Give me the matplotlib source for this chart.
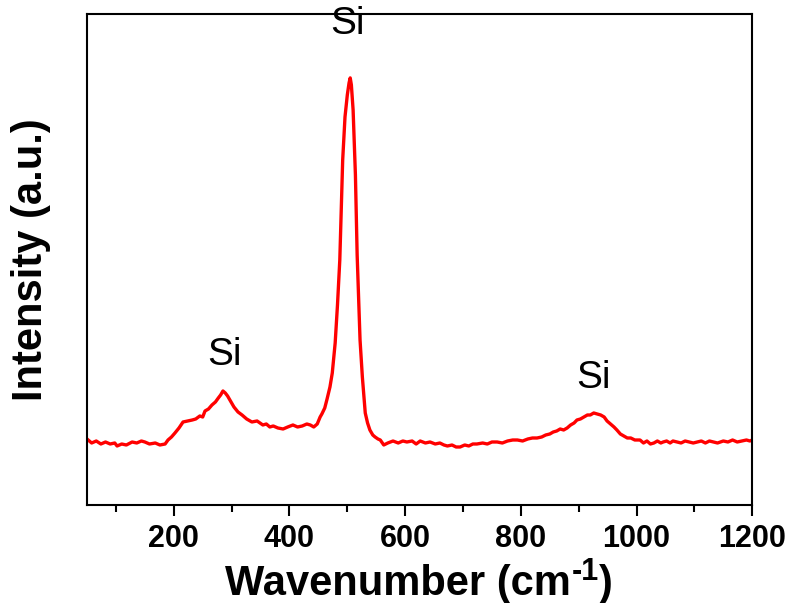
import matplotlib
matplotlib.use("Agg")
import matplotlib.pyplot as plt
from matplotlib.ticker import MultipleLocator, NullLocator

plt.rcParams['font.family'] = ['Liberation Sans', 'DejaVu Sans']

# Raman spectrum (wavenumber in cm^-1, intensity in a.u.)
wavenumber = [50, 58, 66, 74, 82, 90, 98, 102, 110, 118, 128, 136, 144, 150, 158, 168, 176, 185,
              190, 196, 202, 209, 216, 224, 232, 238, 245, 250, 254, 260, 266, 272, 277, 281, 285,
              289, 293, 297, 304, 311, 318, 326, 335, 344, 354, 360, 366, 372, 380, 389, 397, 406,
              414, 422, 430, 436, 442, 448, 453, 456, 461, 465, 470, 474, 479, 483, 487, 492, 496,
              500, 503, 505, 507, 510, 514, 517, 520, 522, 526, 531, 535, 539, 544, 548, 553, 557,
              563, 570, 579, 588, 596, 603, 612, 619, 626, 635, 643, 652, 660, 667, 673, 681, 688,
              695, 703, 710, 717, 724, 734, 742, 750, 759, 768, 777, 786, 794, 803, 812, 820, 828,
              836, 843, 850, 856, 862, 868, 874, 880, 886, 892, 897, 903, 909, 915, 920, 926, 932,
              938, 944, 949, 955, 961, 966, 972, 978, 984, 990, 997, 1006, 1012, 1018, 1024, 1030,
              1036, 1042, 1046, 1052, 1058, 1063, 1070, 1077, 1084, 1091, 1098, 1105, 1112, 1119,
              1126, 1133, 1140, 1150, 1158, 1166, 1174, 1182, 1190, 1196, 1200]
intensity = [66, 62, 64, 61, 63, 61, 62, 59, 61, 60, 63, 62, 64, 63, 61, 62, 60, 61,
             65, 68, 72, 77, 83, 84, 85, 86, 89, 88, 94, 96, 100, 103, 107, 110, 114,
             112, 109, 105, 98, 93, 90, 86, 83, 84, 80, 81, 78, 79, 77, 76, 78, 80,
             78, 79, 81, 80, 78, 81, 88, 91, 97, 106, 118, 132, 162, 200, 245, 345, 388,
             410, 422, 427, 420, 395, 330, 250, 200, 165, 128, 92, 82, 75, 70, 68, 66, 65,
             60, 62, 64, 62, 64, 63, 64, 61, 64, 62, 63, 61, 62, 60, 59, 60, 58,
             58, 60, 59, 61, 61, 62, 61, 63, 63, 62, 64, 65, 65, 64, 66, 67, 67,
             68, 70, 71, 73, 74, 76, 75, 77, 80, 82, 85, 86, 88, 90, 90, 92, 91,
             90, 88, 84, 81, 78, 75, 71, 69, 67, 67, 65, 65, 62, 64, 61, 62,
             64, 62, 63, 64, 62, 64, 63, 62, 64, 63, 62, 63, 64, 62,
             64, 63, 62, 64, 63, 65, 63, 64, 65, 64, 65]

x_ticks = [200, 400, 600, 800, 1000, 1200]
peak_labels = ["Si", "Si", "Si"]
peak_label_x = [287, 501, 925]
peak_label_y = [150, 481, 127]

W_PX, H_PX = 791, 603
fig = plt.figure(figsize=(W_PX / 100, H_PX / 100), dpi=100)
ax = fig.add_axes([0.110, 0.1625, 0.841, 0.8145])

ax.plot(wavenumber, intensity, color='#ff0000', linewidth=2.4)

ax.set_xlim(50, 1200)
ax.set_ylim(0, 491)
ax.set_xticks(x_ticks)
ax.xaxis.set_minor_locator(MultipleLocator(100))
ax.yaxis.set_major_locator(NullLocator())
ax.yaxis.set_minor_locator(NullLocator())

for s in ax.spines.values():
    s.set_linewidth(1.5)

ax.tick_params(axis='x', which='major', direction='out', length=8, width=1.5,
               labelsize=22, pad=6)
ax.tick_params(axis='x', which='minor', direction='out', length=5, width=1.5)
for lab in ax.get_xticklabels():
    lab.set_fontweight('bold')

# y label
fig.text(31 / W_PX, 0.57, 'Intensity (a.u.)', fontsize=30, fontweight='bold',
         rotation=90, ha='center', va='center')

# x label built from pieces so the superscript uses a short hyphen
base_y = 1 - 595 / H_PX
sup_y = 1 - 580 / H_PX
p1 = fig.text(0, base_y, 'Wavenumber (cm', fontsize=30, fontweight='bold', va='baseline', ha='left')
p2 = fig.text(0, sup_y, '-1', fontsize=22, fontweight='bold', va='baseline', ha='left')
p3 = fig.text(0, base_y, ')', fontsize=30, fontweight='bold', va='baseline', ha='left')
fig.canvas.draw()
r = fig.canvas.get_renderer()
w1 = p1.get_window_extent(r).width
w2 = p2.get_window_extent(r).width
w3 = p3.get_window_extent(r).width
total = w1 + 1 + w2 + w3
x0 = 419 - total / 2
p1.set_x(x0 / W_PX)
p2.set_x((x0 + w1 + 1) / W_PX)
p3.set_x((x0 + w1 + 1 + w2) / W_PX)

for t, xv, yv in zip(peak_labels, peak_label_x, peak_label_y):
    ax.text(xv, yv, t, fontsize=28, ha='center', va='center', color='black')

fig.savefig('out.png', dpi=100)
